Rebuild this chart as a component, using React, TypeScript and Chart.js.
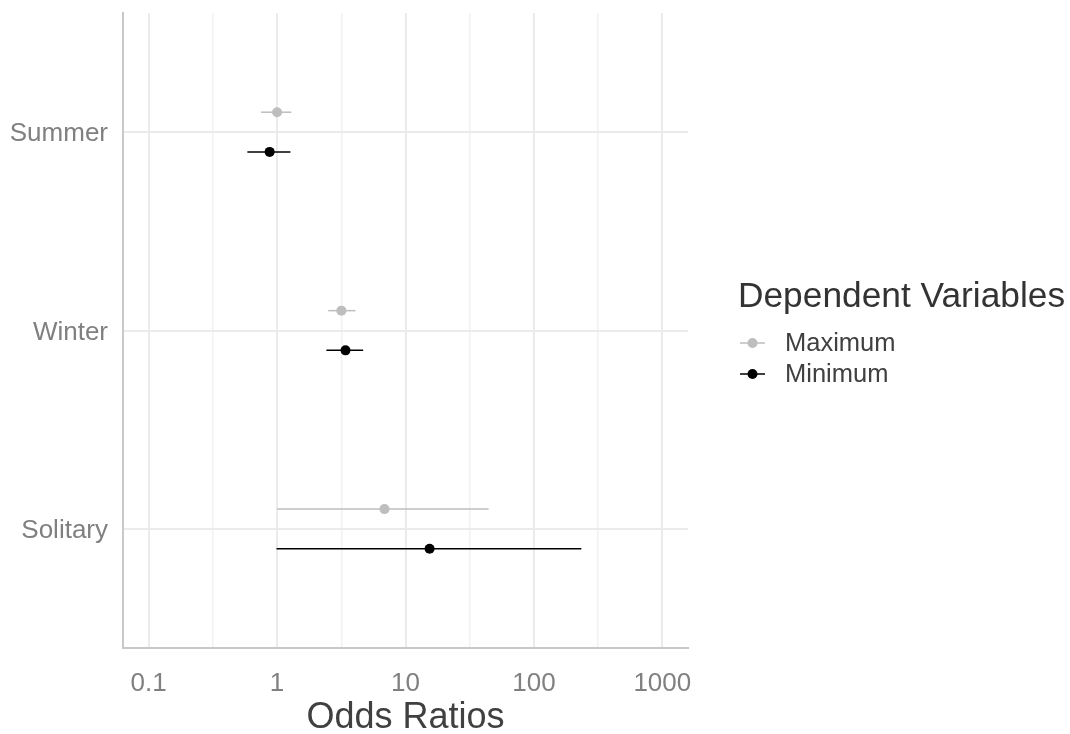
import React, { useEffect, useRef } from 'react';
import { Chart, registerables } from 'chart.js';

Chart.register(...registerables);

const categories = ['Summer', 'Winter', 'Solitary'];
const seriesNames = ['Maximum', 'Minimum'];
const seriesColors = ['#bebebe', '#000000'];

const maxEstimate = [1.0, 3.17, 6.86];
const maxLower = [0.75, 2.5, 1.0];
const maxUpper = [1.29, 4.08, 44.4];

const minEstimate = [0.875, 3.41, 15.4];
const minLower = [0.587, 2.42, 0.99];
const minUpper = [1.27, 4.68, 234];

const xTickValues = [0.1, 1, 10, 100, 1000];
const xTickLabels = ['0.1', '1', '10', '100', '1000'];
const xMinorValues = [0.3162, 3.162, 31.62, 316.2];

const FONT = "'Liberation Sans', Arial, sans-serif";

const errorBarsPlugin = {
  id: 'errorBars',
  beforeDatasetsDraw(chart: any) {
    const { ctx, scales } = chart;
    const x = scales.x;
    const y = scales.y;
    chart.data.datasets.forEach((ds: any) => {
      ctx.save();
      ctx.strokeStyle = ds.borderColor;
      ctx.lineWidth = ds.errorWidth;
      ds.data.forEach((p: any) => {
        const py = y.getPixelForValue(p.y);
        ctx.beginPath();
        ctx.moveTo(x.getPixelForValue(p.lo), py);
        ctx.lineTo(x.getPixelForValue(p.hi), py);
        ctx.stroke();
      });
      ctx.restore();
    });
  },
};

const legendPlugin = {
  id: 'customLegend',
  afterDraw(chart: any) {
    const { ctx } = chart;
    ctx.save();
    ctx.fillStyle = '#333333';
    ctx.font = `35.3px ${FONT}`;
    ctx.textAlign = 'left';
    ctx.textBaseline = 'middle';
    ctx.fillText('Dependent Variables', 738, 297);
    chart.data.datasets.forEach((ds: any, i: number) => {
      const cy = 343 + i * 31;
      ctx.strokeStyle = ds.borderColor;
      ctx.lineWidth = ds.errorWidth;
      ctx.beginPath();
      ctx.moveTo(740, cy);
      ctx.lineTo(765, cy);
      ctx.stroke();
      ctx.fillStyle = ds.backgroundColor;
      ctx.beginPath();
      ctx.arc(752.5, cy, 5, 0, Math.PI * 2);
      ctx.fill();
      ctx.fillStyle = '#404040';
      ctx.font = `25.5px ${FONT}`;
      ctx.fillText(ds.label, 785, cy + 1);
    });
    ctx.restore();
  },
};

export default function App() {
  const canvasRef = useRef<HTMLCanvasElement | null>(null);

  useEffect(() => {
    if (!canvasRef.current) return;
    const mk = (est: number[], lo: number[], hi: number[], off: number) =>
      categories.map((_, i) => ({ x: est[i], y: i + 1 + off, lo: lo[i], hi: hi[i] }));

    const allX = [...xTickValues, ...xMinorValues].sort((a, b) => a - b);

    const chart = new Chart(canvasRef.current, {
      type: 'scatter',
      data: {
        datasets: [
          {
            label: seriesNames[0],
            data: mk(maxEstimate, maxLower, maxUpper, -0.1),
            backgroundColor: seriesColors[0],
            borderColor: seriesColors[0],
            pointRadius: 5,
            pointBorderWidth: 0,
            errorWidth: 1.5,
          } as any,
          {
            label: seriesNames[1],
            data: mk(minEstimate, minLower, minUpper, 0.1),
            backgroundColor: seriesColors[1],
            borderColor: seriesColors[1],
            pointRadius: 5,
            pointBorderWidth: 0,
            errorWidth: 1.5,
          } as any,
        ],
      },
      options: {
        animation: false,
        responsive: true,
        maintainAspectRatio: false,
        layout: { padding: { left: 0, top: 13, right: 382, bottom: 0 } },
        plugins: { legend: { display: false }, tooltip: { enabled: false } },
        scales: {
          x: {
            type: 'logarithmic',
            min: Math.pow(10, -1.2),
            max: Math.pow(10, 3.2),
            afterBuildTicks: (s: any) => {
              s.ticks = allX.map((v) => ({ value: v }));
            },
            afterFit: (s: any) => {
              s.height = 86;
              s.paddingLeft = 0;
              s.paddingRight = 0;
            },
            ticks: {
              autoSkip: false,
              maxRotation: 0,
              minRotation: 0,
              padding: 20,
              color: '#808080',
              font: { family: FONT, size: 26 },
              callback: (v: any) => {
                const idx = xTickValues.indexOf(Number(v));
                return idx >= 0 ? xTickLabels[idx] : '';
              },
            },
            grid: {
              drawTicks: false,
              color: (c: any) => (xTickValues.includes(c.tick?.value) ? '#ebebeb' : '#f2f2f2'),
              lineWidth: (c: any) => (xTickValues.includes(c.tick?.value) ? 2 : 1.5),
            },
            border: { display: true, color: '#c8c8c8', width: 2 },
            title: {
              display: true,
              text: 'Odds Ratios',
              color: '#404040',
              font: { family: FONT, size: 36, lineHeight: 0.89 },
              padding: { top: 0, bottom: 0 },
            },
          } as any,
          y: {
            type: 'linear',
            min: 0.4,
            max: 3.6,
            reverse: true,
            afterBuildTicks: (s: any) => {
              s.ticks = categories.map((_, i) => ({ value: i + 1 }));
            },
            afterFit: (s: any) => {
              s.width = 123;
              s.paddingTop = 0;
              s.paddingBottom = 0;
            },
            ticks: {
              autoSkip: false,
              padding: 15,
              labelOffset: 2,
              color: '#808080',
              font: { family: FONT, size: 26 },
              callback: (v: any) => categories[Math.round(Number(v)) - 1] ?? '',
            },
            grid: { drawTicks: false, color: '#ebebeb', lineWidth: 2 },
            border: { display: true, color: '#c8c8c8', width: 2 },
          } as any,
        },
      },
      plugins: [errorBarsPlugin, legendPlugin],
    });
    return () => chart.destroy();
  }, []);

  return (
    <div style={{ position: 'fixed', left: 0, top: 0, width: 1070, height: 734, background: '#ffffff' }}>
      <canvas ref={canvasRef} />
    </div>
  );
}
